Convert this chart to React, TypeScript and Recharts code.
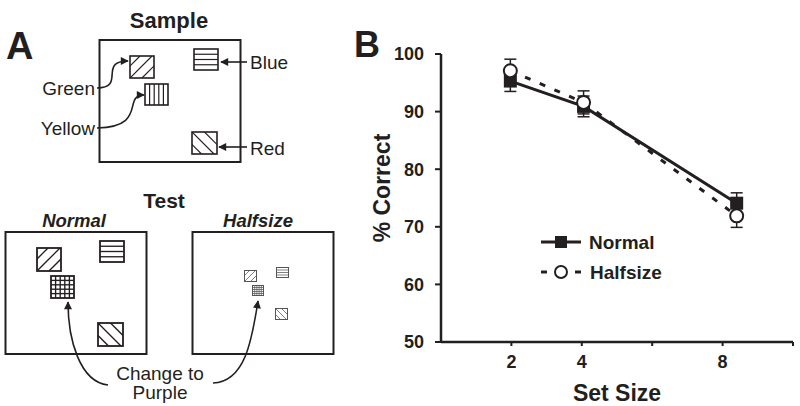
import React from 'react'
import {
  ComposedChart,
  Line,
  XAxis,
  YAxis,
  ErrorBar
} from 'recharts'

const INK = '#231f20'
const FONT = '"Liberation Sans", Arial, Helvetica, sans-serif'

// panel B data
const setSizes = [1.97, 4.05, 8.4]
const normalPct = [95.3, 90.9, 74.1]
const normalErr = [1.8, 1.8, 1.8]
const halfsizePct = [97.1, 91.6, 71.9]
const halfsizeErr = [2.0, 2.0, 2.0]
const xTicks = [2, 4, 6, 8, 10]
const xTickLabels = ['2', '4', '', '8', '']
const yTicks = [50, 60, 70, 80, 90, 100]

const chartData = setSizes.map((s, i) => ({
  size: s,
  normal: normalPct[i],
  normalErr: normalErr[i],
  halfsize: halfsizePct[i],
  halfsizeErr: halfsizeErr[i]
}))

const SquareDot = (props: any) => {
  const { cx, cy } = props
  if (cx == null || cy == null) return null
  return <rect key={`sq-${props.index}`} x={cx - 6.5} y={cy - 6.5} width={13} height={13} fill={INK} />
}

const CircleDot = (props: any) => {
  const { cx, cy } = props
  if (cx == null || cy == null) return null
  return <circle key={`ci-${props.index}`} cx={cx} cy={cy} r={6.5} fill="#fff" stroke={INK} strokeWidth={2} />
}

// legend drawn beside the plot, outside recharts' layout so it takes no room
function ChartLegend() {
  return (
    <svg width={200} height={60} style={{ position: 'absolute', left: 535, top: 228 }}>
      <line x1={6} y1={14} x2={46} y2={14} stroke={INK} strokeWidth={3} />
      <rect x={20} y={8} width={12} height={12} fill={INK} />
      <text x={54} y={20.5} fontSize={19} fontWeight="bold" fontFamily={FONT} fill={INK}>Normal</text>
      <line x1={6} y1={44} x2={12} y2={44} stroke={INK} strokeWidth={3} />
      <line x1={40} y1={44} x2={46} y2={44} stroke={INK} strokeWidth={3} />
      <circle cx={26} cy={44} r={6} fill="#fff" stroke={INK} strokeWidth={2} />
      <text x={55} y={50.5} fontSize={19} fontWeight="bold" fontFamily={FONT} fill={INK}>Halfsize</text>
    </svg>
  )
}

type HatchProps = { id: string; x: number; y: number; w: number; h: number; kind: string; sw: number; color?: string }

function HatchBox({ id, x, y, w, h, kind, sw, color = INK }: HatchProps) {
  const lines: number[][] = []
  if (kind === 'horiz') {
    for (let i = 1; i < 4; i++) lines.push([x, y + (h * i) / 4, x + w, y + (h * i) / 4])
  } else if (kind === 'vert') {
    for (let i = 1; i < 5; i++) lines.push([x + (w * i) / 5, y, x + (w * i) / 5, y + h])
  } else if (kind === 'grid') {
    for (let i = 1; i < 5; i++) {
      lines.push([x + (w * i) / 5, y, x + (w * i) / 5, y + h])
      lines.push([x, y + (h * i) / 5, x + w, y + (h * i) / 5])
    }
  } else if (kind === 'fwd') {
    for (const d of [-0.5, 0, 0.5]) lines.push([x + d * w, y + h, x + d * w + h, y])
  } else if (kind === 'back') {
    for (const d of [-0.5, 0, 0.5]) lines.push([x + d * w, y, x + d * w + h, y + h])
  }
  return (
    <g>
      <clipPath id={id}>
        <rect x={x} y={y} width={w} height={h} />
      </clipPath>
      <g clipPath={`url(#${id})`}>
        {lines.map((l, i) => (
          <line key={i} x1={l[0]} y1={l[1]} x2={l[2]} y2={l[3]} stroke={color} strokeWidth={sw * 0.75} />
        ))}
      </g>
      <rect x={x} y={y} width={w} height={h} fill="none" stroke={color} strokeWidth={sw} />
    </g>
  )
}

function PanelA() {
  const t = { fontFamily: FONT, fill: INK }
  return (
    <svg width={345} height={406} style={{ position: 'absolute', left: 0, top: 0 }}>
      <defs>
        <marker id="arr" viewBox="0 0 10 10" refX={9} refY={5} markerWidth={5.5} markerHeight={5} orient="auto">
          <path d="M0,0 L10,5 L0,10 z" fill={INK} />
        </marker>
      </defs>
      <text x={6} y={59} fontSize={38} fontWeight="bold" {...t}>A</text>
      <text x={169} y={28} fontSize={22} fontWeight="bold" textAnchor="middle" {...t}>Sample</text>
      <rect x={99.5} y={40} width={141} height={122} fill="none" stroke={INK} strokeWidth={2} />
      <HatchBox id="s1" x={130} y={56} w={24} h={22} kind="fwd" sw={1.6} />
      <HatchBox id="s2" x={194} y={49} w={24} h={21} kind="horiz" sw={1.6} />
      <HatchBox id="s3" x={145} y={84} w={23} h={21} kind="vert" sw={1.6} />
      <HatchBox id="s4" x={192} y={132} w={25} h={22} kind="back" sw={1.6} />
      <text x={250} y={69} fontSize={19} {...t}>Blue</text>
      <text x={250} y={155} fontSize={19} {...t}>Red</text>
      <text x={95} y={95} fontSize={19} textAnchor="end" {...t}>Green</text>
      <text x={95} y={135} fontSize={19} textAnchor="end" {...t}>Yellow</text>
      <g fill="none" stroke={INK} strokeWidth={1.6} markerEnd="url(#arr)">
        <path d="M247 62 L221 62" />
        <path d="M247 147 L219 147" />
        <path d="M97 88 C126 88 98 61 128 61" />
        <path d="M97 128 C148 127 122 95 144 95" />
        <path d="M108 385 C80 382 68 340 68 302" />
        <path d="M213 383 C245 382 252 340 258 301" />
      </g>

      <text x={164} y={208} fontSize={21} fontWeight="bold" textAnchor="middle" {...t}>Test</text>
      <text x={74} y={227} fontSize={18.5} fontWeight="bold" fontStyle="italic" textAnchor="middle" {...t}>Normal</text>
      <text x={258} y={227} fontSize={18.5} fontWeight="bold" fontStyle="italic" textAnchor="middle" {...t}>Halfsize</text>
      <rect x={5.5} y={232} width={141} height={122} fill="none" stroke={INK} strokeWidth={2} />
      <rect x={192.5} y={232} width={141} height={122} fill="none" stroke={INK} strokeWidth={2} />

      <HatchBox id="n1" x={37} y={248} w={24} h={23} kind="fwd" sw={1.8} />
      <HatchBox id="n2" x={100} y={241} w={24} h={21} kind="horiz" sw={1.8} />
      <HatchBox id="n3" x={51} y={276} w={23} h={22} kind="grid" sw={1.8} />
      <HatchBox id="n4" x={98} y={323} w={25} h={23} kind="back" sw={1.8} />

      <HatchBox id="h1" x={244.5} y={270.5} w={12} h={11} kind="fwd" sw={1} color="#555" />
      <HatchBox id="h2" x={276.5} y={267.5} w={12} h={10} kind="horiz" sw={1} color="#555" />
      <HatchBox id="h3" x={252.5} y={285.5} w={11} h={10} kind="grid" sw={1} color="#555" />
      <HatchBox id="h4" x={275.5} y={308.5} w={12} h={11} kind="back" sw={1} color="#555" />

      <text x={160} y={380} fontSize={19} textAnchor="middle" {...t}>Change to</text>
      <text x={160} y={399} fontSize={19} textAnchor="middle" {...t}>Purple</text>
    </svg>
  )
}

export default function App() {
  const tickStyle = { fontSize: 18, fontWeight: 'bold', fill: INK, fontFamily: FONT }
  return (
    <div style={{ position: 'absolute', left: 0, top: 0, width: 800, height: 406, background: '#fff', fontFamily: FONT }}>
      <PanelA />
      <div style={{ position: 'absolute', left: 0, top: 0 }}>
        <ComposedChart
          width={800}
          height={406}
          data={chartData}
          margin={{ top: 54, right: 7, bottom: 14, left: 380 }}
        >
          <text x={354} y={57} fontSize={36} fontWeight="bold" fontFamily={FONT} fill={INK}>B</text>
          <XAxis
            type="number"
            dataKey="size"
            domain={[0, 10]}
            ticks={xTicks}
            tickFormatter={(v: number) => xTickLabels[xTicks.indexOf(v)] ?? ''}
            height={50}
            tick={tickStyle}
            tickSize={4}
            tickMargin={9}
            axisLine={{ stroke: INK, strokeWidth: 2.5 }}
            tickLine={{ stroke: INK, strokeWidth: 2 }}
            label={{
              content: (p: any) => (
                <text
                  x={p.viewBox.x + p.viewBox.width / 2}
                  y={401}
                  textAnchor="middle"
                  fontSize={23}
                  fontWeight="bold"
                  fontFamily={FONT}
                  fill={INK}
                >
                  Set Size
                </text>
              )
            }}
          />
          <YAxis
            type="number"
            domain={[50, 100]}
            ticks={yTicks}
            width={61}
            tick={tickStyle}
            tickSize={6}
            tickMargin={11}
            axisLine={{ stroke: INK, strokeWidth: 2.5 }}
            tickLine={{ stroke: INK, strokeWidth: 2 }}
            label={{
              content: () => (
                <text
                  x={390}
                  y={188}
                  transform="rotate(-90 390 188)"
                  textAnchor="middle"
                  fontSize={23}
                  fontWeight="bold"
                  fontFamily={FONT}
                  fill={INK}
                >
                  % Correct
                </text>
              )
            }}
          />
          <Line
            dataKey="normal"
            name="Normal"
            stroke={INK}
            strokeWidth={3}
            dot={SquareDot}
            activeDot={false}
            isAnimationActive={false}
          >
            <ErrorBar dataKey="normalErr" width={6} stroke={INK} strokeWidth={1.5} direction="y" />
          </Line>
          <Line
            dataKey="halfsize"
            name="Halfsize"
            stroke={INK}
            strokeWidth={3}
            strokeDasharray="6 10"
            dot={CircleDot}
            activeDot={false}
            isAnimationActive={false}
          >
            <ErrorBar dataKey="halfsizeErr" width={6} stroke={INK} strokeWidth={1.5} direction="y" />
          </Line>
        </ComposedChart>
      </div>
      <ChartLegend />
    </div>
  )
}
